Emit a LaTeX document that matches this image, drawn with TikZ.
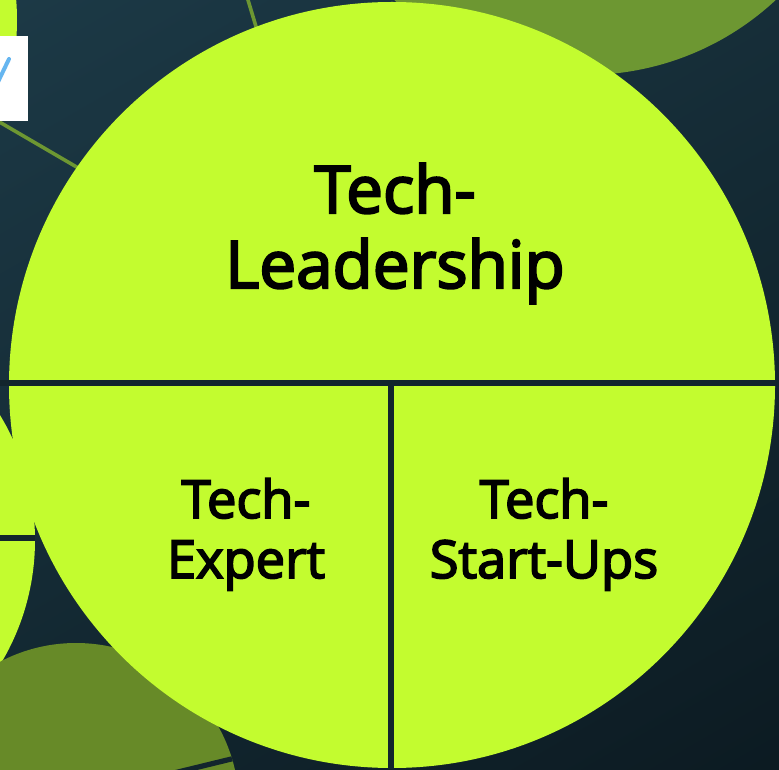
\documentclass[tikz,border=0pt]{standalone}
\usepackage{fontspec}
\newfontfamily\labelfont{Open Sans}[FakeBold=3.3]
\usetikzlibrary{positioning}

\definecolor{bgtop}{HTML}{1D3B48}
\definecolor{bgbot}{HTML}{0B1920}
\definecolor{lime}{HTML}{C3FC2F}
\definecolor{olive}{HTML}{6D9732}
\definecolor{olivelow}{HTML}{678A28}
\definecolor{divider}{HTML}{12252D}
\definecolor{checkblue}{HTML}{66B6F0}

\tikzset{
	every node/.style = {font=\labelfont, text=black, align=center},
	bigtext/.style = {font=\labelfont\fontsize{32.8}{37.5}\selectfont},
	smalltext/.style = {font=\labelfont\fontsize{26.2}{30}\selectfont},
	link/.style = {olive, line width=1.8pt},
	split/.style = {divider, line width=2.6pt}
}

\begin{document}
\begin{tikzpicture}[x=0.5pt, y=-0.5pt]
		\useasboundingbox (0,0) rectangle (779,769);
		\clip (0,0) rectangle (779,769);
		\shade[top color=bgtop, bottom color=bgbot, shading angle=30] (-200,-200) rectangle (979,969);
		% centres
		\coordinate (main) at (392,385);
		\coordinate (left) at (-205,540);
		\coordinate (topr) at (585,-205);
		\coordinate (botl) at (76,806);
		\coordinate (topl) at (-230,20);
		% connectors behind the circles
		\coordinate (l1a) at (-40,99);
		\coordinate (l1b) at (200,239);
		\coordinate (l2a) at (245,-10);
		\coordinate (l2b) at (300,173);
		\draw[link] (l1a) -- (l1b);
		\draw[link] (l2a) -- (l2b);
		% outer circles
		\fill[olive] (topr) circle (280);
		\fill[lime] (topl) circle (247);
		\fill[white] (0,36) rectangle (28,121);
		\coordinate (ck1) at (-3,84);
		\coordinate (ck2) at (9,59);
		\draw[checkblue, line width=2pt, line cap=round] (ck1) -- (ck2);
		\fill[lime] (left) circle (240);
		\coordinate (ls1) at (-20,538);
		\coordinate (ls2) at (40,538);
		\begin{scope}
			\clip (left) circle (240);
			\draw[split] (ls1) -- (ls2);
		\end{scope}
		\fill[olivelow] (botl) circle (163);
		\coordinate (bs1) at (100,791);
		\coordinate (bs2) at (260,752);
		\begin{scope}
			\clip (botl) circle (163);
			\draw[split] (bs1) -- (bs2);
		\end{scope}
		% main circle
		\fill[lime] (main) circle (383);
		\coordinate (hl) at (0,383);
		\coordinate (hr) at (779,383);
		\coordinate (vt) at (391,383);
		\coordinate (vb) at (391,769);
		\draw[split] (hl) -- (hr);
		\draw[split] (vt) -- (vb);
		% labels
		\node[bigtext, anchor=base] (lead) at (395,288) {Tech-\\Leadership};
		\node[smalltext, anchor=base] (expert) at (246,578) {Tech-\\Expert};
		\node[smalltext, anchor=base] (startups) at (544,578) {Tech-\\Start-Ups};
	\end{tikzpicture}
\end{document}
